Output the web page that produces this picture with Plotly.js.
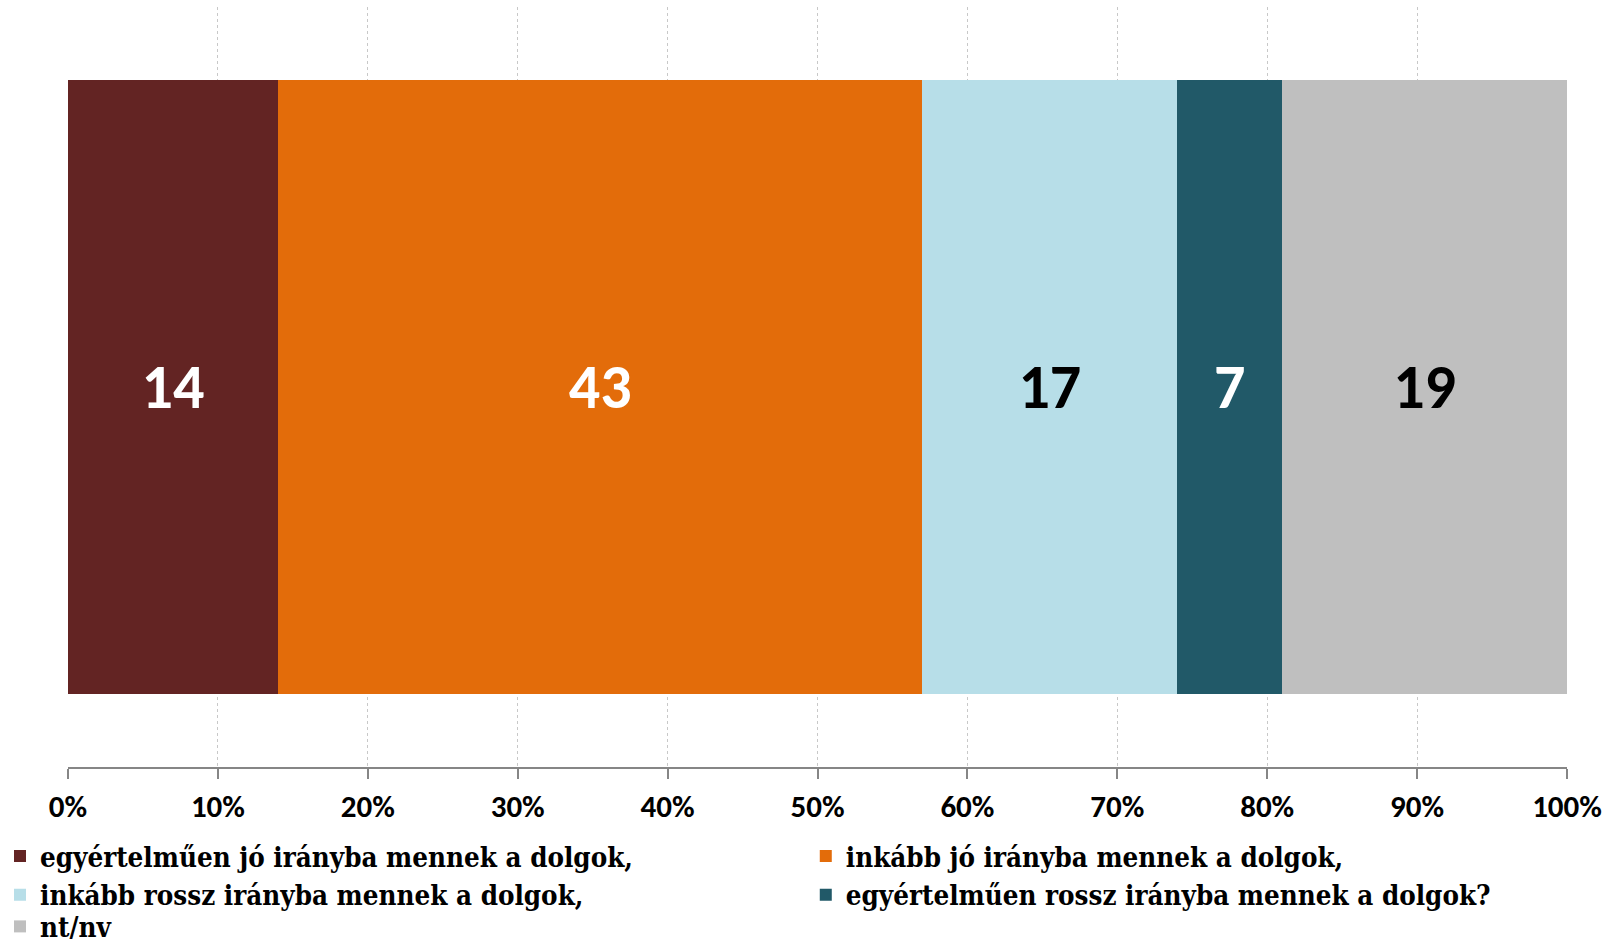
<!DOCTYPE html>
<html>
<head>
<meta charset="utf-8">
<script src="https://cdn.plot.ly/plotly-3.0.1.min.js"></script>
<style>html,body{margin:0;padding:0;background:#fff;}#chart{width:1619px;height:947px;}</style>
</head>
<body>
<div id="chart"></div>
<script>
const category = [''];
const seriesNames = [
  'egyértelműen jó irányba mennek a dolgok,',
  'inkább jó irányba mennek a dolgok,',
  'inkább rossz irányba mennek a dolgok,',
  'egyértelműen rossz irányba mennek a dolgok?',
  'nt/nv'
];
const seriesValues = [14, 43, 17, 7, 19];
const seriesColors = ['#632423', '#E36C0A', '#B7DEE8', '#215968', '#BFBFBF'];
const labelColors = ['#FFFFFF', '#FFFFFF', '#000000', '#FFFFFF', '#000000'];
const legendColumn = ['legend', 'legend2', 'legend', 'legend2', 'legend3'];
const tickVals = [0, 10, 20, 30, 40, 50, 60, 70, 80, 90, 100];
const tickText = ['0%', '10%', '20%', '30%', '40%', '50%', '60%', '70%', '80%', '90%', '100%'];

const traces = seriesNames.map((name, i) => ({
  type: 'bar',
  orientation: 'h',
  name: name,
  legend: legendColumn[i],
  x: [seriesValues[i]],
  y: category,
  marker: {color: seriesColors[i], line: {width: 0}},
  text: [String(seriesValues[i])],
  textposition: 'inside',
  insidetextanchor: 'middle',
  textangle: 0,
  constraintext: 'none',
  textfont: {family: 'Carlito, Lato, sans-serif', size: 62, weight: 'bold', color: labelColors[i]},
  hoverinfo: 'skip'
}));

const legendFont = {family: '"DejaVu Serif Condensed", "DejaVu Serif", serif', size: 27.5, weight: 'bold', color: '#000000'};

function legendAt(x, y) {
  return {
    orientation: 'v',
    xref: 'container',
    yref: 'container',
    x: x,
    xanchor: 'left',
    y: y,
    yanchor: 'top',
    traceorder: 'normal',
    tracegroupgap: 0,
    font: legendFont,
    bgcolor: 'rgba(0,0,0,0)',
    borderwidth: 0
  };
}

const layout = {
  width: 1619,
  height: 947,
  margin: {l: 68, r: 52, t: 7, b: 180, autoexpand: false},
  barmode: 'stack',
  bargap: 0.193,
  paper_bgcolor: '#FFFFFF',
  plot_bgcolor: '#FFFFFF',
  showlegend: true,
  xaxis: {
    range: [0, 100],
    tickvals: tickVals,
    ticktext: tickText,
    showgrid: true,
    gridcolor: '#C8C8C8',
    griddash: 'dot',
    gridwidth: 1,
    zeroline: false,
    showline: true,
    linecolor: '#868686',
    linewidth: 2,
    ticks: 'outside',
    ticklen: 10,
    tickwidth: 2,
    tickcolor: '#868686',
    ticklabelstandoff: 1,
    tickfont: {family: 'Carlito, Lato, sans-serif', size: 31, weight: 'bold', color: '#000000'},
    fixedrange: true
  },
  yaxis: {
    range: [-0.5, 0.5],
    showticklabels: false,
    showgrid: false,
    zeroline: false,
    showline: false,
    ticks: '',
    fixedrange: true
  },
  legend: legendAt(0, 0.1219),
  legend2: legendAt(0.4977, 0.1219),
  legend3: legendAt(0, 0.0475)
};

Plotly.newPlot('chart', traces, layout, {displayModeBar: false, staticPlot: true});
</script>
</body>
</html>
